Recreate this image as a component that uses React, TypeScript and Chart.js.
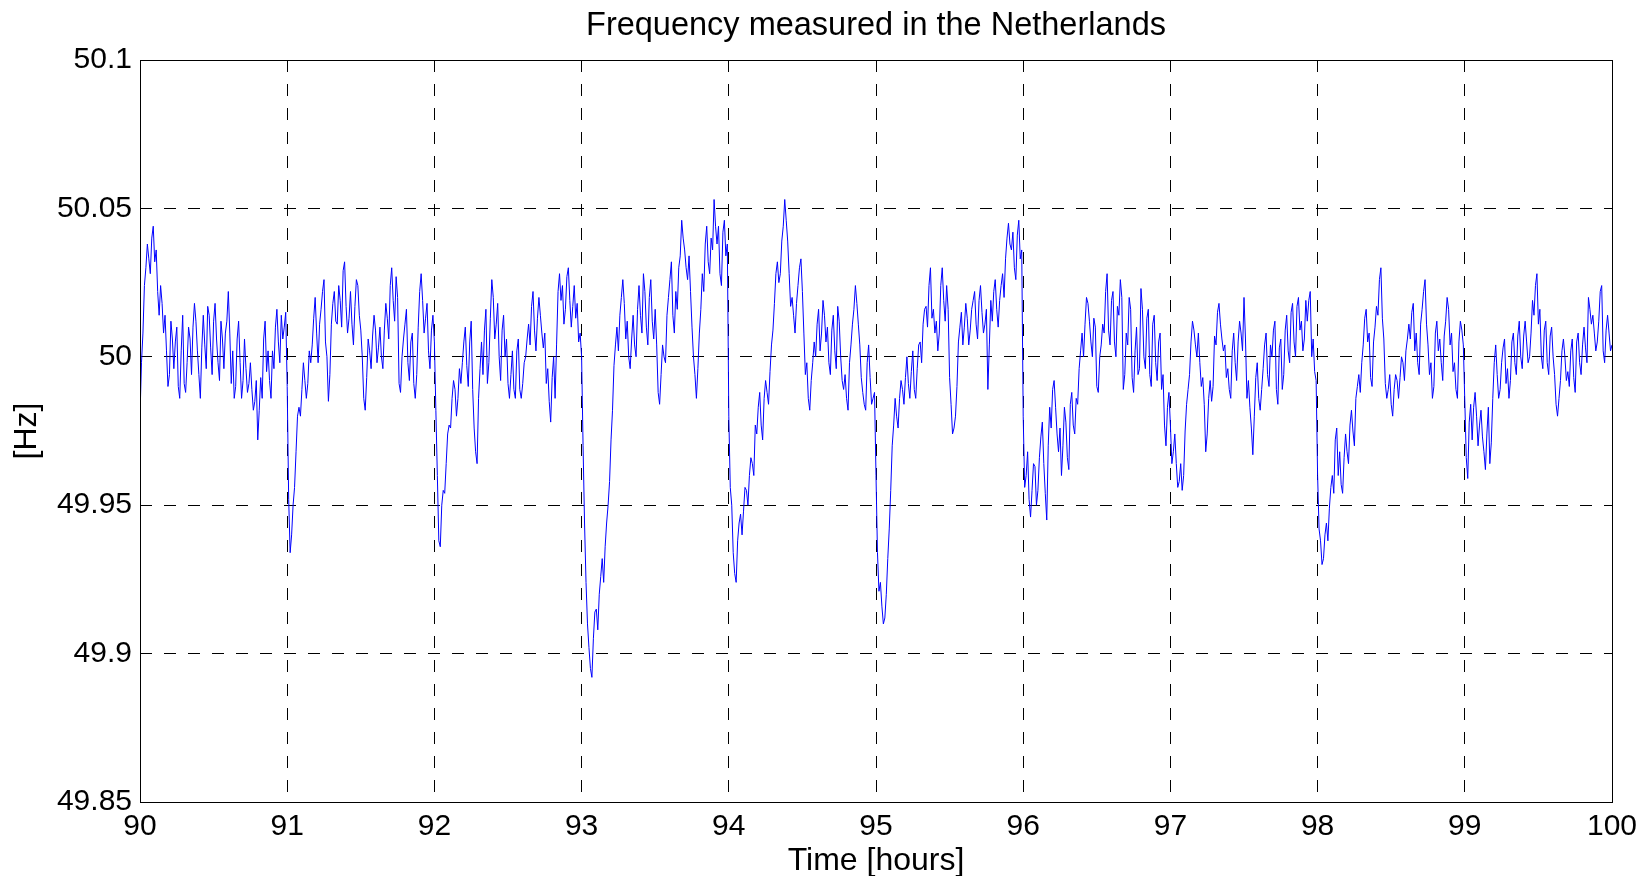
import React, { useEffect, useRef } from "react";
import { Chart, registerables } from "chart.js";

Chart.register(...registerables);

// Grid frequency, stored as deviation from the nominal 50 Hz in mHz.
// Each hour has two runs: readings on the 1/50-hour marks ("devHH") and the
// readings half-way between them ("midHH").
const NOMINAL_HZ = 50;
const SAMPLES_PER_HOUR = 50;

const dev90 = [-20, 8, 30, 33, 40, 32, 22, 24, 8, 2, -6, 6, 5, -10, 2, -9, -2, 6, 10, 12, -6, 3, 4, 17, 3, 12, 6, -8, 6, 8, 22, -9, -14, 6, -2, -8, -4, -9, -11, -15, -28, -7, 6, -5, -8, 2, 10, 5, 14, 10];
const mid90 = [-2, 24, 38, 28, 44, 36, 14, 18, 14, -10, 12, -4, 10, -14, 14, -12, 10, -6, 18, 2, -14, 14, -4, 14, -6, 18, -2, 12, -4, 12, 8, 2, -10, 12, -14, 6, -12, -2, -18, -8, -18, -14, 12, 2, -14, -4, 16, -2, 6, 15];
const dev91 = [-10, -66, -50, -32, -17, -11, -8, -9, -2, 13, 8, 11, 22, 5, -15, 11, 22, 11, 19, 29, 17, 13, 11, 17, 24, 9, -14, -7, 2, 7, 9, 3, 0, 9, 13, 24, 19, 27, -9, 0, 11, -2, 5, -9, -6, 22, 19, 13, 2, 9];
const mid91 = [-48, -60, -44, -20, -20, -2, -14, 2, 4, 20, -2, 16, 26, 0, -6, 18, 12, 24, 10, 32, 8, 22, 4, 26, 14, 0, -18, 6, -4, 14, -2, 10, -4, 18, 6, 30, 12, 20, -12, 6, 16, -8, 8, -14, 10, 28, 8, 18, -4, 14];
const dev92 = [5, -40, -64, -45, -36, -23, -14, -11, -14, -9, 5, -3, 5, -11, -32, -14, 5, 9, -9, 13, 20, 11, 0, 9, 0, -9, -6, -11, 2, -11, -9, 0, 11, 17, 9, 13, 14, 3, -9, -15, -7, -14, 22, 19, 11, 27, 19, 17, 13, 5];
const mid92 = [-18, -62, -50, -46, -26, -24, -8, -20, -4, -2, 10, -10, 12, -24, -36, -4, -6, 16, -2, 26, 6, 18, -8, 14, 6, -14, 2, -14, 6, -14, -2, 6, 4, 22, 2, 20, 8, 8, -4, -22, 0, 4, 28, 24, 16, 30, 10, 24, 18, 8];
const dev93 = [0, -56, -90, -105, -95, -85, -80, -68, -64, -50, -28, -3, 10, 14, 26, 6, 0, 6, 4, 16, 14, 28, 10, 20, 12, 16, -12, -6, 0, 14, 26, 14, 22, 30, 46, 36, 26, 22, 0, -14, 8, 28, 38, 32, 40, 53, 38, 28, 42, 34];
const mid93 = [-30, -76, -98, -108, -86, -92, -74, -76, -56, -42, -18, 4, 2, 20, 18, 12, -4, 14, 0, 24, 8, 22, 4, 26, 6, 4, -16, 4, -2, 20, 32, 8, 16, 34, 40, 30, 34, 10, -6, -4, 16, 22, 44, 28, 36, 44, 44, 24, 46, 38];
const dev94 = [-20, -50, -73, -62, -53, -52, -45, -40, -36, -23, -17, -23, -14, -12, -5, 9, 28, 25, 39, 53, 39, 17, 14, 18, 30, 22, -6, -14, -8, 5, 11, 2, 19, 5, -2, 9, 2, 17, 0, -11, -14, -2, 11, 24, 11, -7, -16, -2, -7, -14];
const mid94 = [-44, -66, -76, -56, -60, -44, -50, -34, -40, -26, -12, -28, -8, -16, 4, 18, 32, 28, 44, 46, 28, 20, 8, 24, 33, 8, -2, -18, -2, 0, 16, 8, 14, 10, -6, 14, -4, 12, -8, -6, -18, 4, 16, 18, 4, -12, -18, 4, -16, -12];
const dev95 = [-40, -79, -84, -88, -68, -45, -23, -20, -14, -11, -7, -9, -5, -11, -4, 5, 11, 17, 24, 13, 8, 2, 24, 19, 24, -7, -26, -20, 5, 15, 10, 13, 9, 19, 11, 19, 15, 11, -11, 19, 22, 16, 19, 28, 33, 45, 36, 30, 41, 33];
const mid95 = [-66, -76, -90, -80, -58, -30, -14, -24, -8, -16, 0, -14, 2, -14, 4, -2, 16, 10, 30, 16, 12, 8, 30, 12, 16, -16, -24, -10, 10, 4, 18, 4, 16, 22, 6, 24, 8, 16, 4, 12, 26, 10, 24, 20, 40, 38, 42, 26, 46, 36];
const dev96 = [-20, -40, -48, -45, -37, -45, -27, -36, -55, -17, -11, -17, -32, -40, -17, -34, -16, -23, -14, -4, 8, 11, 18, 5, 13, -10, 0, 11, 22, 9, 19, 5, 17, 26, -11, 8, 20, -7, 2, -6, 23, 0, 13, -6, 11, -2, 5, -11, -23, -17];
const mid96 = [-44, -32, -54, -36, -50, -34, -22, -46, -30, -24, -8, -26, -24, -30, -22, -38, -12, -26, -16, 2, 0, 20, 12, 0, 10, -12, 4, 8, 28, 4, 22, 0, 14, 20, -6, 4, 16, -12, 10, -4, 16, -4, 16, -10, 14, -8, 8, -6, -30, -12];
const dev97 = [-23, -32, -36, -42, -45, -25, -11, 5, 9, 0, -2, -7, -32, -14, -15, 7, 15, 11, 2, -7, -11, 2, -2, 5, 8, 20, -14, -17, -33, -7, -14, -11, 4, -6, 4, 9, -11, 3, -11, 9, 2, 15, 5, 17, 9, 2, 19, 19, 0, -5];
const mid97 = [-36, -26, -44, -36, -40, -16, -6, 12, 4, 8, -10, -16, -26, -8, -10, 4, 18, 6, 4, -4, -14, 8, -8, 12, 2, 6, -8, -24, -20, -2, -18, -4, 8, -10, 0, 12, -16, 6, -6, 14, -2, 18, 0, 20, 12, 6, 12, 22, 6, -8];
const dev98 = [-40, -62, -68, -56, -51, -40, -28, -40, -43, -34, -32, -23, -25, -14, -6, -2, 13, 5, -7, 5, 17, 26, 13, -9, -11, -16, -11, -8, -7, -2, 2, 11, 15, 2, -2, 11, 22, 11, -6, -14, 8, 2, -2, 7, 20, 4, -5, -11, 5, 9];
const mid98 = [-58, -70, -60, -62, -44, -46, -24, -32, -46, -26, -36, -18, -30, -10, -12, 4, 16, 8, -10, 10, 14, 30, 6, -14, -6, -20, -6, -14, 0, -8, 6, 6, 18, 8, -6, 16, 26, 4, -2, -10, 12, 6, -8, 12, 16, 8, -2, -14, 12, 4];
const dev99 = [-15, -41, -16, -17, -20, -23, -27, -38, -17, -29, -2, -6, -11, 3, -9, -14, 5, -2, 7, 0, 7, 5, 0, 19, 24, 11, 0, 9, -2, 7, 0, -16, -14, 2, 0, -5, 2, -7, 5, -2, 4, 3, 20, 11, 8, 5, 22, 2, 9, 8, 4];
const mid99 = [-34, -22, -28, -12, -30, -18, -32, -26, -36, -14, 4, -14, -2, 6, -4, -8, 8, -6, 12, -4, 12, -2, 8, 14, 28, 16, -4, 12, -6, 10, -6, -20, -8, 6, -8, -10, 6, -12, 8, -6, 10, -2, 16, 14, 2, 12, 24, -2, 14, 2];

const startHours = [90, 91, 92, 93, 94, 95, 96, 97, 98, 99];
const markRuns = [dev90, dev91, dev92, dev93, dev94, dev95, dev96, dev97, dev98, dev99];
const midRuns = [mid90, mid91, mid92, mid93, mid94, mid95, mid96, mid97, mid98, mid99];

const xTickValues = [90, 91, 92, 93, 94, 95, 96, 97, 98, 99, 100];
const xTickLabels = ["90", "91", "92", "93", "94", "95", "96", "97", "98", "99", "100"];
const yTickValues = [49.85, 49.9, 49.95, 50, 50.05, 50.1];
const yTickLabels = ["49.85", "49.9", "49.95", "50", "50.05", "50.1"];

const chartTitle = "Frequency measured in the Netherlands";
const xTitle = "Time [hours]";
const yTitle = "[Hz]";

const FONT = "'Liberation Sans', Arial, Helvetica, sans-serif";

// Solid frame around the plotting area, drawn on top of grid and trace.
const frameBox = {
  id: "frameBox",
  afterDraw(chart: any) {
    const { ctx, chartArea } = chart;
    const l = Math.floor(chartArea.left) + 0.5;
    const t = Math.floor(chartArea.top) + 0.5;
    const r = Math.floor(chartArea.right) + 0.5;
    const b = Math.floor(chartArea.bottom) + 0.5;
    ctx.save();
    ctx.strokeStyle = "#000";
    ctx.lineWidth = 1;
    ctx.setLineDash([]);
    ctx.strokeRect(l, t, r - l, b - t);
    ctx.restore();
  },
};

function buildSeries() {
  const pts: { x: number; y: number }[] = [];
  startHours.forEach((h, k) => {
    const marks = markRuns[k];
    const mids = midRuns[k];
    marks.forEach((d, i) => {
      pts.push({ x: h + i / SAMPLES_PER_HOUR, y: NOMINAL_HZ + d / 1000 });
      if (i < mids.length) {
        pts.push({ x: h + (i + 0.5) / SAMPLES_PER_HOUR, y: NOMINAL_HZ + mids[i] / 1000 });
      }
    });
  });
  return pts;
}

export default function App() {
  const canvasRef = useRef<HTMLCanvasElement | null>(null);

  useEffect(() => {
    if (!canvasRef.current) return;

    const chart = new Chart(canvasRef.current, {
      type: "line",
      data: {
        datasets: [
          {
            data: buildSeries(),
            borderColor: "#0000ff",
            borderWidth: 1,
            pointRadius: 0,
            tension: 0,
            fill: false,
          },
        ],
      },
      plugins: [frameBox],
      options: {
        responsive: false,
        devicePixelRatio: 1,
        animation: false,
        events: [],
        layout: { padding: { left: 0, right: 33, top: 0, bottom: 0 } },
        plugins: {
          legend: { display: false },
          tooltip: { enabled: false },
          title: {
            display: true,
            text: chartTitle,
            fullSize: false,
            color: "#000",
            font: { family: FONT, size: 32.5, weight: "normal", lineHeight: 1.2 },
            padding: { top: 6.5, bottom: 14.5 },
          },
        },
        scales: {
          x: {
            type: "linear",
            min: 90,
            max: 100,
            afterBuildTicks: (scale: any) => {
              scale.ticks = xTickValues.map((v) => ({ value: v }));
            },
            afterFit: (scale: any) => {
              scale.height = 74;
            },
            ticks: {
              autoSkip: false,
              maxRotation: 0,
              padding: 7,
              color: "#000",
              font: { family: FONT, size: 30, lineHeight: 1.2 },
              callback: (_v: any, i: number) => xTickLabels[i],
            },
            grid: { color: "#000", lineWidth: 1, drawTicks: false },
            border: { display: false, dash: [12, 12] },
            title: {
              display: true,
              text: xTitle,
              color: "#000",
              font: { family: FONT, size: 32, lineHeight: 0.9 },
              padding: { top: 0, bottom: 0 },
            },
          },
          y: {
            type: "linear",
            min: 49.85,
            max: 50.1,
            afterBuildTicks: (scale: any) => {
              scale.ticks = yTickValues.map((v) => ({ value: v }));
            },
            afterFit: (scale: any) => {
              scale.width = 140;
            },
            ticks: {
              autoSkip: false,
              padding: 8,
              color: "#000",
              font: { family: FONT, size: 30, lineHeight: 1.2 },
              callback: (_v: any, i: number) => yTickLabels[i],
            },
            grid: { color: "#000", lineWidth: 1, drawTicks: false },
            border: { display: false, dash: [12, 12] },
            title: {
              display: true,
              text: yTitle,
              color: "#000",
              font: { family: FONT, size: 32, lineHeight: 1.2 },
              padding: { top: 8.2, bottom: 0 },
            },
          },
        },
      },
    } as any);

    return () => chart.destroy();
  }, []);

  return (
    <div style={{ position: "fixed", left: 0, top: 0, width: 1645, height: 876, background: "#fff" }}>
      <canvas ref={canvasRef} width={1645} height={876} style={{ display: "block" }} />
    </div>
  );
}
